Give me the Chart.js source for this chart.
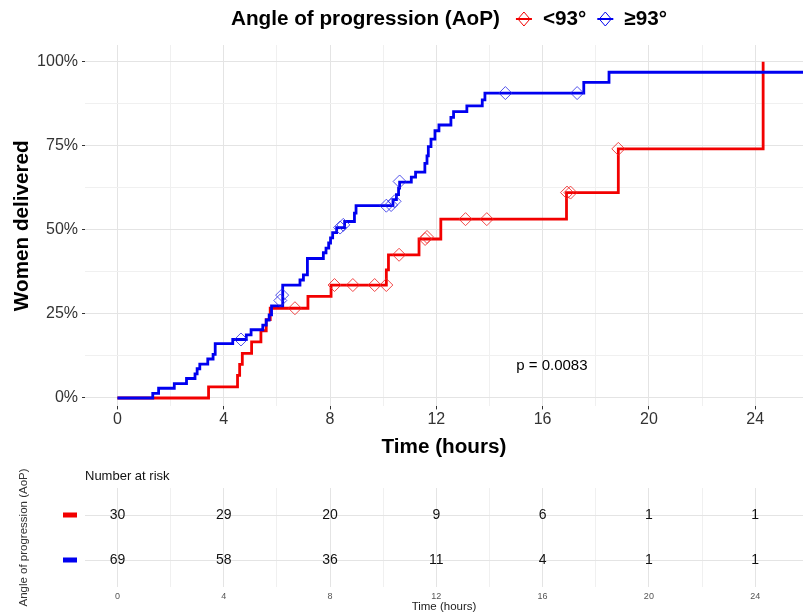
<!DOCTYPE html>
<html lang="en">
<head>
<meta charset="UTF-8">
<title>Women delivered by angle of progression</title>
<script src="https://cdn.jsdelivr.net/npm/chart.js"></script>
<style>
  html, body { margin: 0; padding: 0; background: #fff; }
  #wrap { position: relative; width: 803px; height: 616px; }
  .panel { position: absolute; left: 0; width: 803px; }
  #top { top: 0; height: 460px; }
  #risk { top: 460px; height: 156px; }
</style>
</head>
<body>
<div id="wrap">
  <div class="panel" id="top"><canvas id="kmChart" width="803" height="460"></canvas></div>
  <div class="panel" id="risk"><canvas id="riskChart" width="803" height="156"></canvas></div>
</div>
<script>
// AoP < 93 degrees (n = 30)
const hoursLow = [0, 3.43, 4.52, 4.6, 4.7, 5.05, 5.4, 5.6, 5.75, 7.17, 8.04, 10.12, 10.2, 11.35, 12.17, 16.9, 18.85, 24.3];
const pctLow   = [0, 3.3, 6.7, 10.0, 13.3, 16.7, 20.0, 23.3, 26.7, 30.2, 33.6, 38.1, 42.6, 47.3, 53.2, 61.1, 74.1, 100];
const censLowHours = [6.68, 8.17, 8.86, 9.68, 10.12, 10.6, 11.58, 11.65, 13.1, 13.9, 16.92, 17.05, 18.85];
const censLowPct   = [26.7, 33.6, 33.6, 33.6, 33.6, 42.6, 47.3, 47.9, 53.2, 53.2, 61.1, 61.1, 74.1];

// AoP >= 93 degrees (n = 69)
const hoursHigh = [0, 1.33, 1.55, 2.14, 2.6, 2.92, 3.0, 3.1, 3.4, 3.6, 3.68, 4.34, 4.85, 5.03, 5.47, 5.6, 5.71, 5.8, 6.22, 6.87,
  7.0, 7.15, 7.75, 7.85, 7.95, 8.02, 8.1, 8.25, 8.55, 8.92, 8.98, 10.37, 10.5, 10.58, 10.62, 11.06, 11.22, 11.57, 11.65, 11.7,
  11.8, 11.95, 12.1, 12.55, 12.65, 13.15, 13.73, 13.83, 17.55, 18.5, 25.8];
const pctHigh = [0, 1.4, 2.9, 4.3, 5.8, 7.2, 8.7, 10.1, 11.6, 13.0, 16.2, 17.4, 18.8, 20.3, 21.7, 23.2, 24.7, 27.4, 33.6, 35.1,
  36.6, 41.5, 43.2, 44.6, 46.1, 47.6, 49.2, 50.7, 52.5, 55.0, 57.2, 59.0, 60.5, 62.4, 64.2, 65.7, 67.2, 69.8, 72.0, 74.8,
  77.0, 79.5, 81.2, 83.5, 85.2, 86.9, 88.7, 90.7, 93.9, 96.9, 96.9];
const censHighHours = [4.65, 6.13, 6.2, 8.38, 8.5, 10.12, 10.3, 10.43, 10.62, 14.6, 17.3];
const censHighPct   = [17.4, 29.0, 30.6, 50.7, 51.5, 57.2, 57.4, 58.5, 64.4, 90.7, 90.7];

// number at risk table
const riskHours  = [0, 4, 8, 12, 16, 20, 24];
const atRiskLow  = [30, 29, 20, 9, 6, 1, 1];
const atRiskHigh = [69, 58, 36, 11, 4, 1, 1];

const groupNames = ['<93°', '≥93°'];
const legendTitle = 'Angle of progression (AoP)';
const pValueText = 'p = 0.0083';
const pValueAt = { x: 16.35, y: 9.5 };

const RED = '#f20000', BLUE = '#0000f0';
const FONT = '"Liberation Sans", Arial, sans-serif';
const X_MIN = -1.22, X_MAX = 25.8;
const xTickVals = [0, 2, 4, 6, 8, 10, 12, 14, 16, 18, 20, 22, 24];
const yTickVals = [0, 12.5, 25, 37.5, 50, 62.5, 75, 87.5, 100];

const toXY = (xs, ys) => xs.map((x, i) => ({ x: x, y: ys[i] }));
const isMajorX = v => v % 4 === 0;
const isMajorY = v => v % 25 === 0;

// header legend + p value
const kmText = {
  id: 'kmText',
  afterDraw(chart) {
    const { ctx, scales } = chart;
    ctx.save();
    ctx.textBaseline = 'middle';
    ctx.textAlign = 'left';
    ctx.fillStyle = '#000';
    ctx.font = 'bold 20.7px ' + FONT;
    let x = 231;
    const y = 19;
    ctx.fillText(legendTitle, x, y);
    x += ctx.measureText(legendTitle).width + 16;
    [RED, BLUE].forEach((col, i) => {
      ctx.strokeStyle = col;
      ctx.lineWidth = 2;
      ctx.beginPath(); ctx.moveTo(x, y); ctx.lineTo(x + 16, y); ctx.stroke();
      ctx.lineWidth = 1;
      ctx.beginPath();
      ctx.moveTo(x + 8, y - 7); ctx.lineTo(x + 14, y); ctx.lineTo(x + 8, y + 7); ctx.lineTo(x + 2, y); ctx.closePath();
      ctx.stroke();
      x += 27;
      ctx.fillStyle = '#000';
      ctx.fillText(groupNames[i], x, y);
      x += ctx.measureText(groupNames[i]).width + 11;
    });
    ctx.font = '15px ' + FONT;
    ctx.textAlign = 'center';
    ctx.fillText(pValueText, scales.x.getPixelForValue(pValueAt.x), scales.y.getPixelForValue(pValueAt.y));
    ctx.restore();
  }
};

new Chart(document.getElementById('kmChart'), {
  type: 'line',
  data: {
    datasets: [
      { label: groupNames[0] + ' censored', data: toXY(censLowHours, censLowPct), showLine: false,
        pointStyle: 'rectRot', pointRadius: 6.5, pointBorderWidth: 1, pointBorderColor: 'rgba(240,40,40,0.85)',
        pointBackgroundColor: 'rgba(0,0,0,0)', order: 0 },
      { label: groupNames[1] + ' censored', data: toXY(censHighHours, censHighPct), showLine: false,
        pointStyle: 'rectRot', pointRadius: 6.5, pointBorderWidth: 1, pointBorderColor: 'rgba(40,40,230,0.8)',
        pointBackgroundColor: 'rgba(0,0,0,0)', order: 0 },
      { label: groupNames[1], data: toXY(hoursHigh, pctHigh), borderColor: BLUE, borderWidth: 2.8,
        stepped: true, pointRadius: 0, fill: false, order: 1 },
      { label: groupNames[0], data: toXY(hoursLow, pctLow), borderColor: RED, borderWidth: 2.8,
        stepped: true, pointRadius: 0, fill: false, order: 2 }
    ]
  },
  options: {
    responsive: false,
    animation: false,
    events: [],
    layout: { autoPadding: false, padding: { top: 45, left: 0, right: 0, bottom: 0 } },
    plugins: { legend: { display: false }, tooltip: { enabled: false } },
    scales: {
      x: {
        type: 'linear', min: X_MIN, max: X_MAX,
        afterBuildTicks: s => { s.ticks = xTickVals.map(v => ({ value: v })); },
        afterFit: s => { s.height = 53.6; },
        border: { display: false },
        grid: {
          color: c => (c.tick && isMajorX(c.tick.value)) ? '#e4e4e4' : '#f0f0f0',
          tickColor: c => (c.tick && isMajorX(c.tick.value)) ? '#333' : 'rgba(0,0,0,0)',
          tickLength: 3, tickWidth: 1
        },
        ticks: { autoSkip: false, maxRotation: 0, padding: 1, color: '#333',
                 font: { family: FONT, size: 16 },
                 callback: v => isMajorX(v) ? String(v) : '' },
        title: { display: true, text: 'Time (hours)', color: '#000',
                 font: { family: FONT, size: 20.7, weight: 'bold' }, padding: { top: 0, bottom: 0 } }
      },
      y: {
        type: 'linear', min: -2.5, max: 105,
        afterBuildTicks: s => { s.ticks = yTickVals.map(v => ({ value: v })); },
        afterFit: s => { s.width = 85; },
        border: { display: false },
        grid: {
          color: c => (c.tick && isMajorY(c.tick.value)) ? '#e4e4e4' : '#f0f0f0',
          tickColor: c => (c.tick && isMajorY(c.tick.value)) ? '#333' : 'rgba(0,0,0,0)',
          tickLength: 3, tickWidth: 1
        },
        ticks: { padding: 4, color: '#333', font: { family: FONT, size: 16 },
                 callback: v => isMajorY(v) ? v + '%' : '' },
        title: { display: true, text: 'Women delivered', color: '#000',
                 font: { family: FONT, size: 20.7, weight: 'bold' }, padding: { top: 10, bottom: 0 } }
      }
    }
  },
  plugins: [kmText]
});

// number-at-risk table
const riskText = {
  id: 'riskText',
  afterDatasetsDraw(chart) {
    const { ctx, chartArea, scales } = chart;
    ctx.save();
    ctx.textBaseline = 'middle';
    ctx.fillStyle = '#111';
    ctx.textAlign = 'left';
    ctx.font = '13px ' + FONT;
    ctx.fillText('Number at risk', chartArea.left, 16);
    ctx.textAlign = 'center';
    ctx.font = '14px ' + FONT;
    chart.data.datasets.forEach((ds, i) => {
      const meta = chart.getDatasetMeta(i);
      ctx.fillStyle = '#111';
      meta.data.forEach((pt, j) => ctx.fillText(String(ds.counts[j]), pt.x, pt.y));
      const yy = scales.y.getPixelForValue(ds.row);
      ctx.fillStyle = ds.keyColor;
      ctx.fillRect(63, yy - 2.5, 14, 5);
    });
    ctx.restore();
  }
};

new Chart(document.getElementById('riskChart'), {
  type: 'scatter',
  data: {
    datasets: [
      { label: groupNames[0], row: 2, keyColor: RED, counts: atRiskLow,
        data: riskHours.map(h => ({ x: h, y: 2 })), pointRadius: 0 },
      { label: groupNames[1], row: 1, keyColor: BLUE, counts: atRiskHigh,
        data: riskHours.map(h => ({ x: h, y: 1 })), pointRadius: 0 }
    ]
  },
  options: {
    responsive: false,
    animation: false,
    events: [],
    layout: { autoPadding: false, padding: { top: 28, left: 0, right: 0, bottom: 0 } },
    plugins: { legend: { display: false }, tooltip: { enabled: false } },
    scales: {
      x: {
        type: 'linear', min: X_MIN, max: X_MAX,
        afterBuildTicks: s => { s.ticks = xTickVals.map(v => ({ value: v })); },
        afterFit: s => { s.height = 29; },
        border: { display: false },
        grid: { drawTicks: false,
                color: c => (c.tick && isMajorX(c.tick.value)) ? '#e4e4e4' : '#f0f0f0' },
        ticks: { autoSkip: false, maxRotation: 0, padding: 4, color: '#555',
                 font: { family: FONT, size: 9 },
                 callback: v => isMajorX(v) ? String(v) : '' },
        title: { display: true, text: 'Time (hours)', color: '#222',
                 font: { family: FONT, size: 11.5 }, padding: { top: 0, bottom: 2 } }
      },
      y: {
        type: 'linear', min: 0.4, max: 2.6,
        afterBuildTicks: s => { s.ticks = [{ value: 1 }, { value: 2 }]; },
        afterFit: s => { s.width = 85; },
        border: { display: false },
        grid: { drawTicks: false, color: '#e4e4e4' },
        ticks: { callback: () => '' },
        title: { display: true, text: 'Angle of progression (AoP)', color: '#333',
                 font: { family: FONT, size: 11.5 }, padding: { top: 17, bottom: 0 } }
      }
    }
  },
  plugins: [riskText]
});
</script>
</body>
</html>
